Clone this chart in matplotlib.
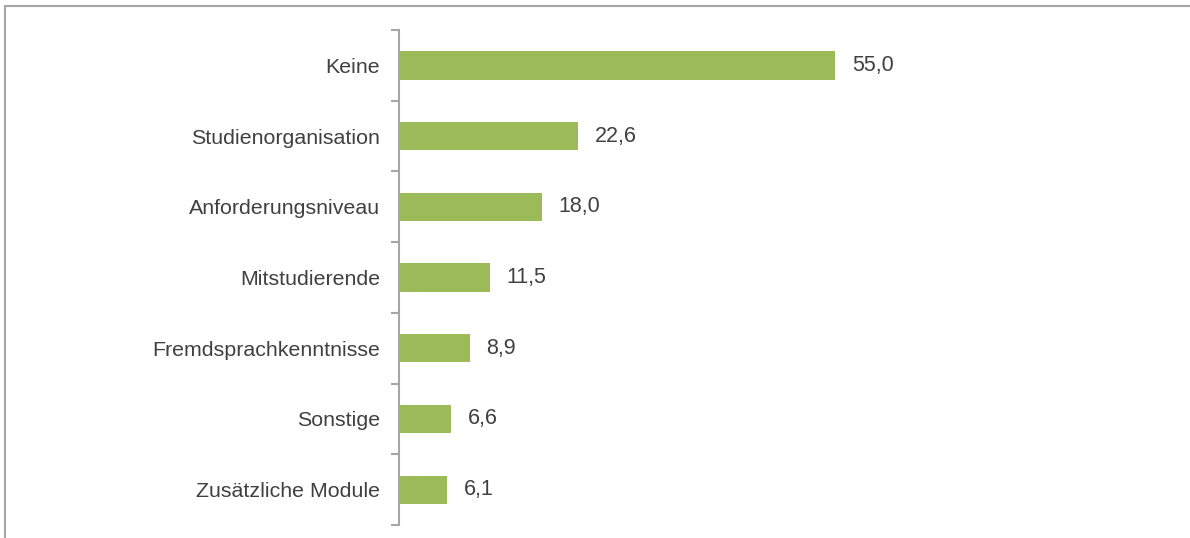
import matplotlib.pyplot as plt
from matplotlib.patches import Rectangle

categories = ["Keine", "Studienorganisation", "Anforderungsniveau", "Mitstudierende",
              "Fremdsprachkenntnisse", "Sonstige", "Zusätzliche Module"]
values = [55.0, 22.6, 18.0, 11.5, 8.9, 6.6, 6.1]

plt.rcParams['font.family'] = ['Liberation Sans', 'DejaVu Sans']

W, H = 1190, 538
fig = plt.figure(figsize=(W / 100, H / 100), dpi=100)

# frame around the chart (right and bottom edges cut off)
fig.patches.append(Rectangle((5 / W, -0.1), 1.2, 1 + 0.1 - 6.5 / H, transform=fig.transFigure,
                             fill=False, edgecolor="#A6A6A6", linewidth=1.5))

ax = fig.add_axes([399 / W, 1 - 525 / H, (W - 399) / W, (525 - 30) / H])

n = len(categories)
ypos = list(range(n))
ax.barh(ypos, values, height=0.4, color="#9BBB59")
for y, v in zip(ypos, values):
    ax.text(v + 2.1, y, f"{v:.1f}".replace(".", ","), va="center", ha="left",
            fontsize=15.5, color="#404040")

ax.set_xlim(0, (W - 399) / 7.93)
ax.set_ylim(n - 0.5, -0.5)
ax.set_yticks(ypos)
ax.set_yticklabels(categories, fontsize=15.4, color="#404040")
ax.tick_params(axis="y", which="major", length=0, pad=13.7)
ax.set_yticks([i - 0.5 for i in range(n + 1)], minor=True)
ax.tick_params(axis="y", which="minor", length=6, width=1.5, color="#A6A6A6")
ax.set_xticks([])
for s in ["top", "right", "bottom"]:
    ax.spines[s].set_visible(False)
ax.spines["left"].set_color("#A6A6A6")
ax.spines["left"].set_linewidth(1.5)

fig.savefig("out.png", dpi=100)
